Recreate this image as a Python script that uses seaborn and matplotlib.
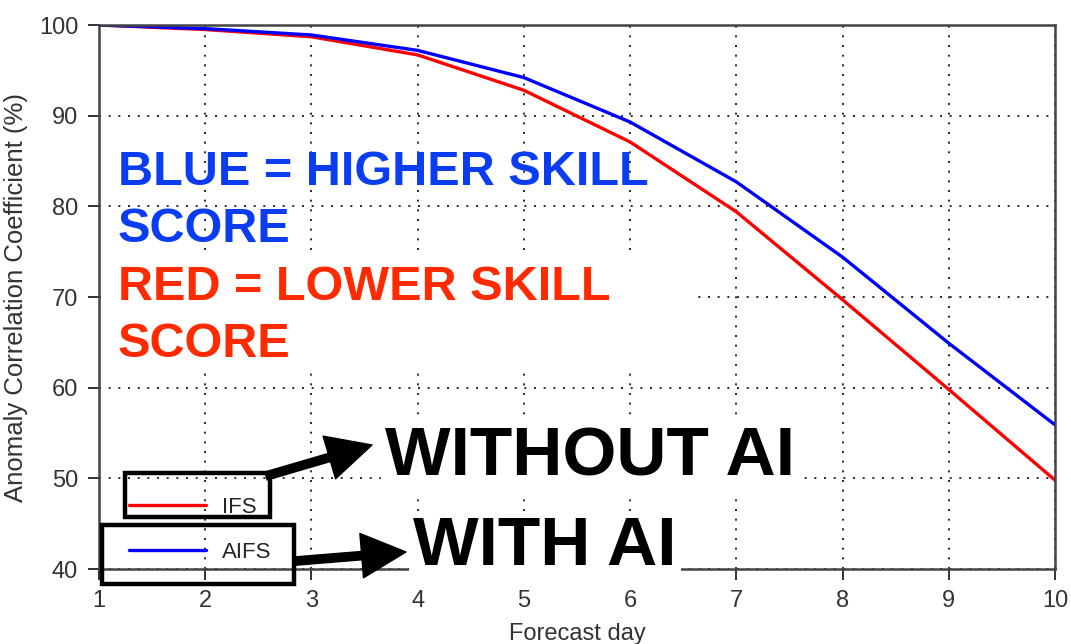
import pandas as pd
import numpy as np
import matplotlib
matplotlib.use("Agg")
import matplotlib.pyplot as plt
from matplotlib.patches import Rectangle
import seaborn as sns

# values
days = [1, 2, 3, 4, 5, 6, 7, 8, 9, 10]
ifs = [100, 99.5, 98.7, 96.7, 92.8, 87.1, 79.4, 69.7, 59.8, 49.8]
aifs = [100, 99.6, 98.9, 97.2, 94.2, 89.3, 82.7, 74.4, 64.9, 55.9]
models = ['IFS', 'AIFS']
line_colors = {'IFS': '#ff0000', 'AIFS': '#0000ff'}

df = pd.DataFrame({
    'day': days * 2,
    'acc': ifs + aifs,
    'model': ['IFS'] * len(days) + ['AIFS'] * len(days),
})

sns.set_style("ticks")
plt.rcParams['font.family'] = ['Liberation Sans', 'DejaVu Sans']

W, H = 1071, 644
fig = plt.figure(figsize=(W / 100, H / 100), dpi=100)
ax = fig.add_axes([99 / W, 1 - 569 / H, (1055 - 99) / W, (569 - 25) / H])

sns.lineplot(data=df, x='day', y='acc', hue='model', hue_order=models,
             palette=line_colors, linewidth=2.4, ax=ax, legend=False)

ax.set_xlim(1, 10)
ax.set_ylim(40, 100)
ax.set_xticks(days)
ax.set_yticks(range(40, 101, 10))
ax.grid(True, linestyle=(0, (1, 3.8)), color='#333333', linewidth=1.45)
ax.tick_params(labelsize=17, colors='#333333', length=8, width=1.4, direction='out', pad=7)
for s in ax.spines.values():
    s.set_color('#444444')
    s.set_linewidth(1.8)
ax.set_xlabel('Forecast day', fontsize=17, color='#333333', labelpad=8)
ax.set_ylabel('Anomaly Correlation Coefficient (%)', fontsize=18.5, color='#333333', labelpad=8)

# legend
handles = [plt.Line2D([], [], color=line_colors[m], lw=2.4) for m in models]
ax.legend(handles, models, loc='upper left', bbox_to_anchor=(0.031, 0.133),
          frameon=False, fontsize=16, handlelength=3.5, handletextpad=0.7,
          labelspacing=1.1, borderpad=0, borderaxespad=0)


def fx(px):
    return px / W


def fy(py):
    return 1 - py / H


# black boxes around legend entries
fig.patches.append(Rectangle((fx(125), fy(517)), fx(270) - fx(125), fy(473) - fy(517),
                             transform=fig.transFigure, fill=False, edgecolor='black', lw=3.2, zorder=5))
fig.patches.append(Rectangle((fx(102), fy(584)), fx(294) - fx(102), fy(525) - fy(584),
                             transform=fig.transFigure, fill=False, edgecolor='black', lw=3.2, zorder=5))

# white area behind red text
fig.patches.append(Rectangle((fx(101), fy(370)), fx(695) - fx(101), fy(250) - fy(370),
                             transform=fig.transFigure, facecolor='white', edgecolor='none', zorder=1))

blue_txt = '#0a3cf2'
red_txt = '#ff2a00'
fig.text(fx(118), fy(185), 'BLUE = HIGHER SKILL', color=blue_txt, fontsize=35, fontweight='bold', va='baseline')
fig.text(fx(118), fy(242), 'SCORE', color=blue_txt, fontsize=35, fontweight='bold', va='baseline')
fig.text(fx(118), fy(300), 'RED = LOWER SKILL', color=red_txt, fontsize=35, fontweight='bold', va='baseline', zorder=4)
fig.text(fx(118), fy(357), 'SCORE', color=red_txt, fontsize=35, fontweight='bold', va='baseline', zorder=4)

box = dict(facecolor='white', edgecolor='none', pad=3)
fig.text(fx(385), fy(475), 'WITHOUT AI', color='black', fontsize=50, fontweight='bold',
         va='baseline', bbox=box, zorder=4)
fig.text(fx(413), fy(565), 'WITH AI', color='black', fontsize=50, fontweight='bold',
         va='baseline', bbox=box, zorder=4)

# arrows
arrow = dict(arrowstyle='simple,head_length=1.6,head_width=1.6,tail_width=0.3',
             mutation_scale=20, color='black', shrinkA=0, shrinkB=0)
ax.annotate('', xy=(fx(372), fy(445)), xytext=(fx(266), fy(476)),
            xycoords='figure fraction', textcoords='figure fraction', arrowprops=arrow, zorder=6)
ax.annotate('', xy=(fx(406), fy(552)), xytext=(fx(296), fy(561)),
            xycoords='figure fraction', textcoords='figure fraction', arrowprops=arrow, zorder=6)

fig.savefig('out.png', dpi=100)
